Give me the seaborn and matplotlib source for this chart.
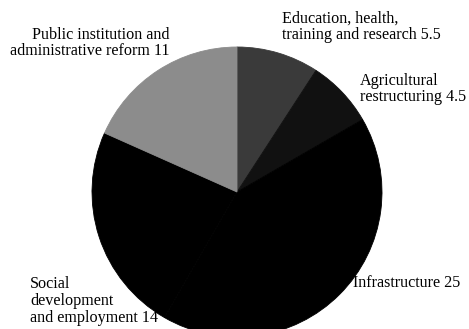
import seaborn as sns
import matplotlib.pyplot as plt

# Datos del gráfico (sentido horario desde arriba)
labels = ['Education, health,\ntraining and research 5.5',
          'Agricultural\nrestructuring 4.5',
          'Infrastructure 25',
          'Social\ndevelopment\nand employment 14',
          'Public institution and\nadministrative reform 11']
values = [5.5, 4.5, 25, 14, 11]
colors = ['#3a3a3a', '#111111', '#000000', '#000000', '#8c8c8c']

sns.set_theme(style='white')
plt.rcParams['font.family'] = ['Liberation Serif', 'DejaVu Serif']

W, H = 469, 329
fig = plt.figure(figsize=(W / 100, H / 100), dpi=100)

# Centro y radio del pastel en píxeles
cx, cy, r = 237, 192, 145
ax = fig.add_axes([(cx - r) / W, (H - cy - r) / H, 2 * r / W, 2 * r / H])
wedges, _ = ax.pie(values, colors=colors, startangle=90, counterclock=False)
for w in wedges:
    w.set_edgecolor(w.get_facecolor())
    w.set_linewidth(0.6)
    w.set_clip_on(False)
ax.set_xlim(-1, 1)
ax.set_ylim(-1, 1)
ax.set_aspect('auto')
ax.axis('off')

# Etiquetas (posiciones en píxeles)
fs = 11.6
def label(txt, x, y, ha='left'):
    fig.text(x / W, 1 - y / H, txt, ha=ha, va='center', fontsize=fs,
             linespacing=1.05, color='black')

label(labels[0], 282, 27)
label(labels[1], 360, 89)
label(labels[2], 353, 283)
label(labels[3], 30, 301)
label(labels[4], 170, 43, ha='right')

fig.savefig('out.png', dpi=100)
